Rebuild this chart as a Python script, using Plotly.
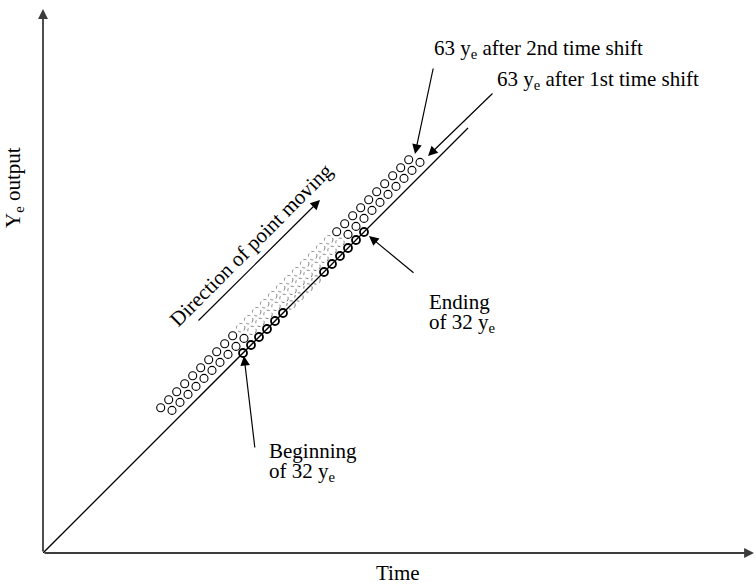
import plotly.graph_objects as go

# ---- data (time, output) ----
# the straight line y = t
line_t = [0, 425]
line_y = [0, 425]

# 32 y_e sitting on the line (middle four drawn dotted)
t32 = [200, 208, 216, 224, 232, 240, 248, 256, 265, 273, 281, 289, 297, 305, 313, 321]
y32 = [200, 208, 216, 224, 232, 240, 248, 256, 265, 273, 281, 289, 297, 305, 313, 321]
dotted32 = [6, 7, 8, 9]

# 63 y_e after 1st time shift
t1 = [129, 137, 145, 153, 161, 169, 177, 185, 193, 201, 209, 217, 225, 233, 241, 249,
      257, 265, 273, 281, 289, 297, 305, 313, 321, 329, 337, 345, 353, 361, 369, 377]
y1 = [142.6, 150.6, 158.6, 166.6, 174.6, 182.6, 190.6, 198.6, 206.6, 214.6, 222.6, 230.6,
      238.6, 246.6, 254.6, 262.6, 270.6, 278.6, 286.6, 294.6, 302.6, 310.6, 318.6, 326.6,
      334.6, 342.6, 350.6, 358.6, 366.6, 374.6, 382.6, 390.6]
dotted1 = list(range(10, 22))

# 63 y_e after 2nd time shift
t2 = [117.7, 125.7, 133.7, 141.7, 149.7, 157.7, 165.7, 173.7, 181.7, 189.7, 197.7, 205.7,
      213.7, 221.7, 229.7, 237.7, 245.7, 253.7, 261.7, 269.7, 277.7, 285.7, 293.7, 301.7,
      309.7, 317.7, 325.7, 333.7, 341.7, 349.7, 357.7, 365.7]
y2 = [145.3, 153.3, 161.3, 169.3, 177.3, 185.3, 193.3, 201.3, 209.3, 217.3, 225.3, 233.3,
      241.3, 249.3, 257.3, 265.3, 273.3, 281.3, 289.3, 297.3, 305.3, 313.3, 321.3, 329.3,
      337.3, 345.3, 353.3, 361.3, 369.3, 377.3, 385.3, 393.3]
dotted2 = list(range(10, 22))

FONT = "Liberation Serif"
FS = 21
W, H = 755, 587
L, B = 43, 34          # plot area: x 43..755, y 0..553 (px)
PW, PH = W - L, H - B


def px(x):
    return (x - L) / PW


def py(y):
    return (PH - y) / PH


def split(t, y, dotted):
    keep = [i for i in range(len(t)) if i not in dotted]
    return ([t[i] for i in keep], [y[i] for i in keep],
            [t[i] for i in dotted], [y[i] for i in dotted])


fig = go.Figure()

fig.add_trace(go.Scatter(x=line_t, y=line_y, mode="lines",
                         line=dict(color="black", width=1.3), hoverinfo="skip"))

shapes = []
R = 4.2
for t, y, dot, lw in [(t32, y32, dotted32, 1.8), (t1, y1, dotted1, 1.1), (t2, y2, dotted2, 1.1)]:
    st, sy, dt, dy = split(t, y, dot)
    fig.add_trace(go.Scatter(x=st, y=sy, mode="markers",
                             marker=dict(symbol="circle", size=8, color="rgba(0,0,0,0)",
                                         line=dict(color="black", width=lw)),
                             hoverinfo="skip"))
    for a, b in zip(dt, dy):
        shapes.append(dict(type="circle", xref="x", yref="y",
                           x0=a - R, x1=a + R, y0=b - R, y1=b + R,
                           line=dict(color="#7a7a7a", width=1, dash="dot")))


def arrow(tip, tail, width=1.2, size=1.6, color="black"):
    fig.add_annotation(x=px(tip[0]), y=py(tip[1]), xref="paper", yref="paper",
                       ax=tail[0] - tip[0], ay=tail[1] - tip[1], text="",
                       showarrow=True, arrowhead=2, arrowsize=size, arrowwidth=width,
                       arrowcolor=color, standoff=0)


def label(x, y, text, angle=0, xanchor="left"):
    fig.add_annotation(x=px(x), y=py(y), xref="paper", yref="paper", text=text,
                       showarrow=False, textangle=angle, xanchor=xanchor, yanchor="middle",
                       font=dict(family=FONT, size=FS, color="black"))


# axes
arrow((43, 9), (43, 553), width=1.8, size=1.1, color="#3c3c3c")
arrow((764, 553), (43, 553), width=1.8, size=1.1, color="#3c3c3c")

# pointers
arrow((320, 200), (197, 322))          # direction of point moving
arrow((415, 154), (433.5, 67))         # 2nd time shift
arrow((428, 156), (494, 92))           # 1st time shift
arrow((369, 236), (415, 274))          # ending
arrow((244, 356), (255, 449))          # beginning

label(432, 49, "63 y<sub>e</sub> after 2nd time shift")
label(495, 80, "63 y<sub>e</sub> after 1st time shift")
label(427, 302, "Ending")
label(427, 323, "of 32 y<sub>e</sub>")
label(267, 451, "Beginning")
label(267, 472, "of 32 y<sub>e</sub>")
label(251, 245, "Direction of point moving", angle=-45, xanchor="center")
label(398, 573, "Time", xanchor="center")
label(14, 188, "Y<sub>e</sub> output", angle=-90, xanchor="center")

fig.update_layout(
    width=W, height=H,
    margin=dict(l=L, r=0, t=0, b=B, pad=0),
    paper_bgcolor="white", plot_bgcolor="white",
    showlegend=False, shapes=shapes,
    xaxis=dict(range=[0, PW], visible=False, fixedrange=True),
    yaxis=dict(range=[0, PH], visible=False, fixedrange=True),
    font=dict(family=FONT, size=FS, color="black"),
)

fig.write_html("out.html", config={"displayModeBar": False},
               post_script="document.body.style.margin='0';")
